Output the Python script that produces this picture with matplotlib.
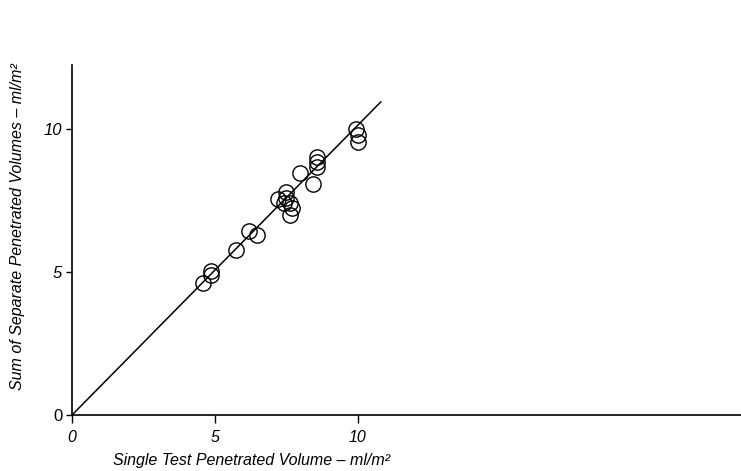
import numpy as np
import matplotlib
matplotlib.use('Agg')
import matplotlib.pyplot as plt

plt.rcParams['font.family'] = ['Liberation Sans', 'DejaVu Sans']

# single test volume vs. sum of separate volumes (ml/m^2)
single = [4.59, 4.86, 4.86, 5.72, 6.20, 6.46, 7.21, 7.48, 7.48, 7.41, 7.62,
          7.68, 7.62, 7.97, 8.44, 8.56, 8.56, 8.56, 9.95, 9.99, 9.99]
separate = [4.60, 5.03, 4.90, 5.77, 6.44, 6.29, 7.55, 7.81, 7.58, 7.41, 7.40,
            7.23, 7.00, 8.47, 8.08, 9.01, 8.86, 8.68, 9.99, 9.79, 9.56]

fit_x = [0, 10.8]
fit_y = [0, 10.95]

ticks = [0, 5, 10]

dpi = 100
w = 741
h = 471

fig = plt.figure(figsize=(w/dpi, h/dpi), dpi=dpi)
ax = fig.add_axes([0.0972, 0.1189, 0.9028, 0.743])

ax.plot(fit_x, fit_y, 'k-', lw=1.1)
ax.plot(single, separate, 'o', ms=11, mfc='none', mec='k', mew=1.0)

ax.set_xlim(0, 23.4)
ax.set_ylim(0, 12.24)

for s in ['top', 'right']:
    ax.spines[s].set_visible(False)
for s in ['left', 'bottom']:
    ax.spines[s].set_linewidth(1.2)

ax.set_xticks(ticks)
ax.set_yticks(ticks)
ax.set_xticklabels([str(t) for t in ticks], fontsize=11.5, fontstyle='italic')
ax.set_yticklabels([str(t) for t in ticks], fontsize=12)
for lab in ax.get_yticklabels()[1:]:
    lab.set_fontstyle('italic')
ax.tick_params(axis='x', direction='out', length=6, width=1.0, pad=5)
ax.tick_params(axis='y', direction='out', length=4, width=1.0, pad=3)

fig.text(0.34, 0.023, 'Single Test Penetrated Volume \u2013 ml/m\u00b2',
         ha='center', va='center', fontsize=11.5, fontstyle='italic')
fig.text(0.024, 0.518, 'Sum of Separate Penetrated Volumes \u2013 ml/m\u00b2',
         ha='center', va='center', rotation=90, fontsize=11.5, fontstyle='italic')

fig.savefig('out.png', dpi=dpi)
